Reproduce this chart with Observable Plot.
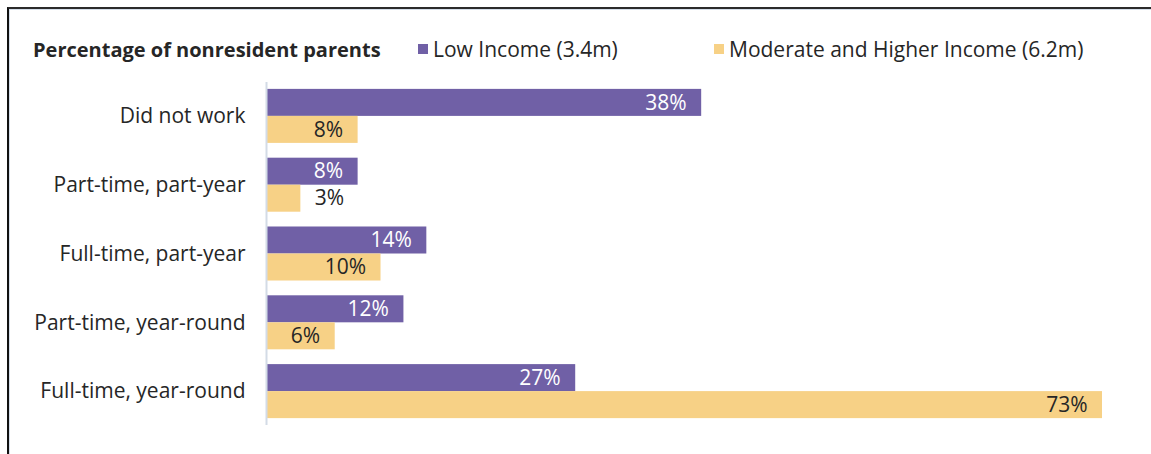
<!DOCTYPE html>
<html>
<head>
<meta charset="utf-8">
<script src="https://cdn.jsdelivr.net/npm/d3@7"></script>
<script src="https://cdn.jsdelivr.net/npm/@observablehq/plot@0.6"></script>
<style>
  html, body { margin: 0; padding: 0; background: #fff; }
  body { width: 1151px; height: 454px; position: relative; overflow: hidden;
         font-family: "Open Sans", Lato, sans-serif; color: #262626; }
  .frame { position: absolute; left: 7px; top: 7px; right: -10px; bottom: -10px;
           border-top: 2px solid #2b2b2b; border-left: 2px solid #111;
           box-shadow: inset 1px 1px 0 #d5dee9; pointer-events: none; }
  .header { position: relative; height: 80px; }
  .title { position: absolute; left: 33px; top: 36px; font-weight: bold; font-size: 20px; line-height: 27px; }
  .item { position: absolute; top: 35px; font-size: 21px; line-height: 28px; display: flex; align-items: center; }
  .item .sw { width: 10px; height: 10px; margin-right: 5px; }
  #chart svg { display: block; }
</style>
</head>
<body>
<div class="header" id="header"></div>
<div id="chart"></div>
<div class="frame"></div>
<script>
// Work status of nonresident parents, by income group (percent)
const categories = [
  "Did not work",
  "Part-time, part-year",
  "Full-time, part-year",
  "Part-time, year-round",
  "Full-time, year-round"
];
const seriesNames = ["Low Income (3.4m)", "Moderate and Higher Income (6.2m)"];
const lowIncome = [38, 8, 14, 12, 27];
const moderateHigher = [8, 3, 10, 6, 73];
const seriesColors = ["#7060a6", "#f7d186"];
const chartTitle = "Percentage of nonresident parents";

// header: title and legend
const header = document.getElementById("header");
const t = document.createElement("div");
t.className = "title";
t.textContent = chartTitle;
header.appendChild(t);
const legendLeft = [418, 714];
seriesNames.forEach((name, i) => {
  const it = document.createElement("div");
  it.className = "item";
  it.style.left = legendLeft[i] + "px";
  const sw = document.createElement("span");
  sw.className = "sw";
  sw.style.background = seriesColors[i];
  it.appendChild(sw);
  it.appendChild(document.createTextNode(name));
  header.appendChild(it);
});

const lowRows = categories.map((c, i) => ({cat: c, value: lowIncome[i]}));
const modRows = categories.map((c, i) => ({cat: c, value: moderateHigher[i]}));
const half = 27;
const small = 5; // labels for bars narrower than this go outside the bar
const fmt = d => d.value + "%";

const chart = Plot.plot({
  width: 1151,
  height: 374,
  marginTop: 2,
  marginBottom: 29,
  marginLeft: 266,
  marginRight: 49,
  style: {fontFamily: "'Open Sans', Lato, sans-serif", fontSize: "21px", color: "#262626", background: "transparent"},
  x: {domain: [0, 73], axis: null},
  y: {domain: categories, paddingInner: 0.215, paddingOuter: 0.1, round: false, label: null, tickSize: 0, tickPadding: 21},
  marks: [
    Plot.barX(lowRows, {x: "value", y: "cat", fill: seriesColors[0], insetBottom: half}),
    Plot.barX(modRows, {x: "value", y: "cat", fill: seriesColors[1], insetTop: half}),
    Plot.ruleX([0], {stroke: "#d3dbe6", strokeWidth: 2}),
    Plot.text(lowRows.filter(d => d.value >= small), {x: "value", y: "cat", text: fmt, textAnchor: "end", dx: -15, dy: -half / 2, fill: "white"}),
    Plot.text(modRows.filter(d => d.value >= small), {x: "value", y: "cat", text: fmt, textAnchor: "end", dx: -15, dy: half / 2, fill: "#262626"}),
    Plot.text(modRows.filter(d => d.value < small), {x: "value", y: "cat", text: fmt, textAnchor: "start", dx: 14, dy: half / 2, fill: "#262626"})
  ]
});
document.getElementById("chart").appendChild(chart);
</script>
</body>
</html>
